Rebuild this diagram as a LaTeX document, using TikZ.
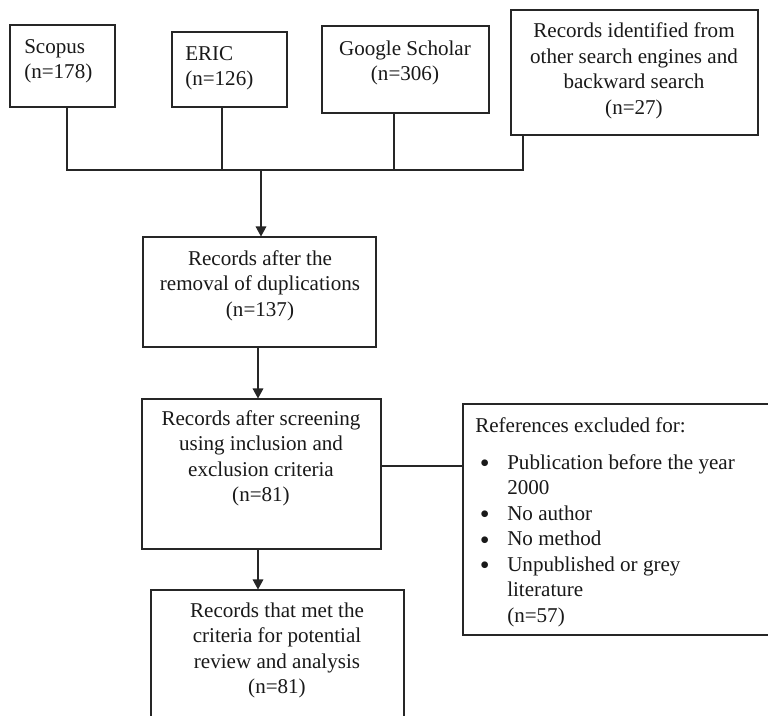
\documentclass[tikz,border=0pt]{standalone}
\usepackage{fontspec}
\setmainfont{Liberation Serif}
\usetikzlibrary{fit,arrows.meta}
\tikzset{
  box/.style={draw=black!85, line width=0.8pt, inner sep=0pt},
  txt/.style={inner sep=0pt, font=\fontsize{15.8}{19.1}\selectfont, text=black!90},
  ln/.style={draw=black!85, line width=0.8pt},
  arr/.style={ln, -{Triangle[width=8pt,length=7.5pt]}}
}
\newcommand{\blt}{\makebox[24pt][l]{\hspace{3.5pt}\raisebox{-2.6pt}[0pt][0pt]{\fontsize{21}{19.1}\selectfont\textbullet}}}
\begin{document}
\begin{tikzpicture}[x=0.75pt,y=-0.75pt]
\useasboundingbox (0,0) rectangle (768,715);
\clip (0,0) rectangle (768,715);
\fill[white] (0,0) rectangle (768,715);
% boxes
\node[box, fit={(10,25)(115,107)}] (scopus) {};
\node[box, fit={(172,32)(287,107)}] (eric) {};
\node[box, fit={(322,26)(489,113)}] (gs) {};
\node[box, fit={(511,10)(758,135)}] (other) {};
\node[box, fit={(143,237)(376,347)}] (dup) {};
\node[box, fit={(142,399)(381,549)}] (scr) {};
\node[box, fit={(463,404)(790,635)}] (excl) {};
\node[box, fit={(151,590)(404,740)}] (res) {};
% texts (anchor base = baseline of the last line)
\node[txt, anchor=base west, align=left] (tscopus) at (24,78.5) {Scopus\\(n=178)};
\node[txt, anchor=base west, align=left] (teric) at (185,85.5) {ERIC\\(n=126)};
\node[txt, anchor=base, align=center] (tgs) at (405,80.5) {Google Scholar\\(n=306)};
\node[txt, anchor=base, align=center] (tother) at (634,114) {Records identified from\\other search engines and\\backward search\\(n=27)};
\node[txt, anchor=base, align=center] (tdup) at (260,316) {Records after the\\removal of duplications\\(n=137)};
\node[txt, anchor=base, align=center] (tscr) at (261,501.5) {Records after screening\\using inclusion and\\exclusion criteria\\(n=81)};
\node[txt, anchor=base, align=center] (tres) at (277,693.5) {Records that met the\\criteria for potential\\review and analysis\\(n=81)};
\node[txt, anchor=base west, align=left] (texcl) at (475,622) {References excluded for:\\[8.6pt]
\blt Publication before the year\\
\hspace*{24pt}2000\\
\blt No author\\
\blt No method\\
\blt Unpublished or grey\\
\hspace*{24pt}literature\\
\hspace*{24pt}(n=57)};
% connectors
\coordinate (b1) at (67,170);
\coordinate (b2) at (222,170);
\coordinate (b3) at (394,170);
\coordinate (b4) at (523,170);
\coordinate (bj) at (261,170);
\coordinate (ax) at (258,0);
\coordinate (ly) at (0,466);
\draw[ln] (b1 |- scopus.south) -- (b1) -- (b4) -- (b4 |- other.south);
\draw[ln] (b2 |- eric.south) -- (b2);
\draw[ln] (b3 |- gs.south) -- (b3);
\draw[arr] (bj) -- (bj |- dup.north);
\draw[arr] (ax |- dup.south) -- (ax |- scr.north);
\draw[arr] (ax |- scr.south) -- (ax |- res.north);
\draw[ln] (scr.east |- ly) -- (excl.west |- ly);
\end{tikzpicture}
\end{document}
